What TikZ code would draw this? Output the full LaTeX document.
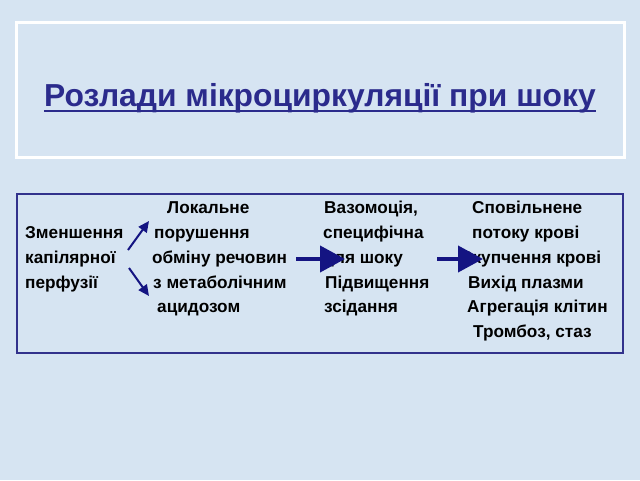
\documentclass[tikz,border=0pt]{standalone}
\usepackage{fontspec}
\setmainfont{Liberation Sans}
\usetikzlibrary{arrows.meta}
\definecolor{bg}{RGB}{214,228,242}
\definecolor{titleblue}{RGB}{43,43,140}
\definecolor{boxblue}{RGB}{50,50,140}
\definecolor{arrblue}{RGB}{20,20,130}
\tikzset{
  txt/.style={anchor=base west, inner sep=0pt, font=\fontsize{17.2}{20}\selectfont\bfseries, text=black},
  bigarrow/.style={draw=arrblue, line width=4pt, -{Triangle[length=25pt,width=26pt]}},
  smallarrow/.style={draw=arrblue, line width=2pt, -{Triangle[length=11pt,width=10pt]}}
}
\begin{document}
\begin{tikzpicture}[x=1pt,y=-1pt]
\fill[bg] (0,0) rectangle (640,480);
\useasboundingbox (0,0) rectangle (640,480);
% title frame
\draw[white, line width=3pt] (16,22) rectangle (624,157);
\node[anchor=base, inner sep=0pt, text=titleblue, font=\fontsize{31.8}{36}\selectfont\bfseries] (title) at (320,106) {Розлади мікроциркуляції при шоку};
\draw[titleblue, line width=2pt] ([yshift=-5pt]title.base west) -- ([yshift=-5pt]title.base east);
% main box
\draw[boxblue, line width=2pt] (17,194) rectangle (623,353);
% column 1
\node[txt] (c1a) at (25,238) {Зменшення};
\node[txt] (c1b) at (25,263) {капілярної};
\node[txt] (c1c) at (25,288) {перфузії};
% column 2
\node[txt] (c2a) at (167,213) {Локальне};
\node[txt] (c2b) at (154,238) {порушення};
\node[txt] (c2c) at (152,263) {обміну речовин};
\node[txt] (c2d) at (153,288) {з метаболічним};
\node[txt] (c2e) at (157,312) {ацидозом};
% column 3
\node[txt] (c3a) at (324,213) {Вазомоція,};
\node[txt] (c3b) at (323,238) {специфічна};
\node[txt] (c3c) at (323,263) {для шоку};
\node[txt] (c3d) at (325,288) {Підвищення};
\node[txt] (c3e) at (324,312) {зсідання};
% column 4
\node[txt] (c4a) at (472,213) {Сповільнене};
\node[txt] (c4b) at (472,238) {потоку крові};
\node[txt] (c4c) at (460,263) {Скупчення крові};
\node[txt] (c4d) at (468,288) {Вихід плазми};
\node[txt] (c4e) at (467,312) {Агрегація клітин};
\node[txt] (c4f) at (473,337) {Тромбоз, стаз};
% small arrows
\coordinate (s1) at (128,250);
\coordinate (e1) at (149,221);
\coordinate (s2) at (129,268);
\coordinate (e2) at (149,296);
\draw[smallarrow] (s1) -- (e1);
\draw[smallarrow] (s2) -- (e2);
% big arrows
\coordinate (b1s) at (296,259);
\coordinate (b1e) at (345,259);
\coordinate (b2s) at (437,259);
\coordinate (b2e) at (483,259);
\draw[bigarrow] (b1s) -- (b1e);
\draw[bigarrow] (b2s) -- (b2e);
\end{tikzpicture}
\end{document}
